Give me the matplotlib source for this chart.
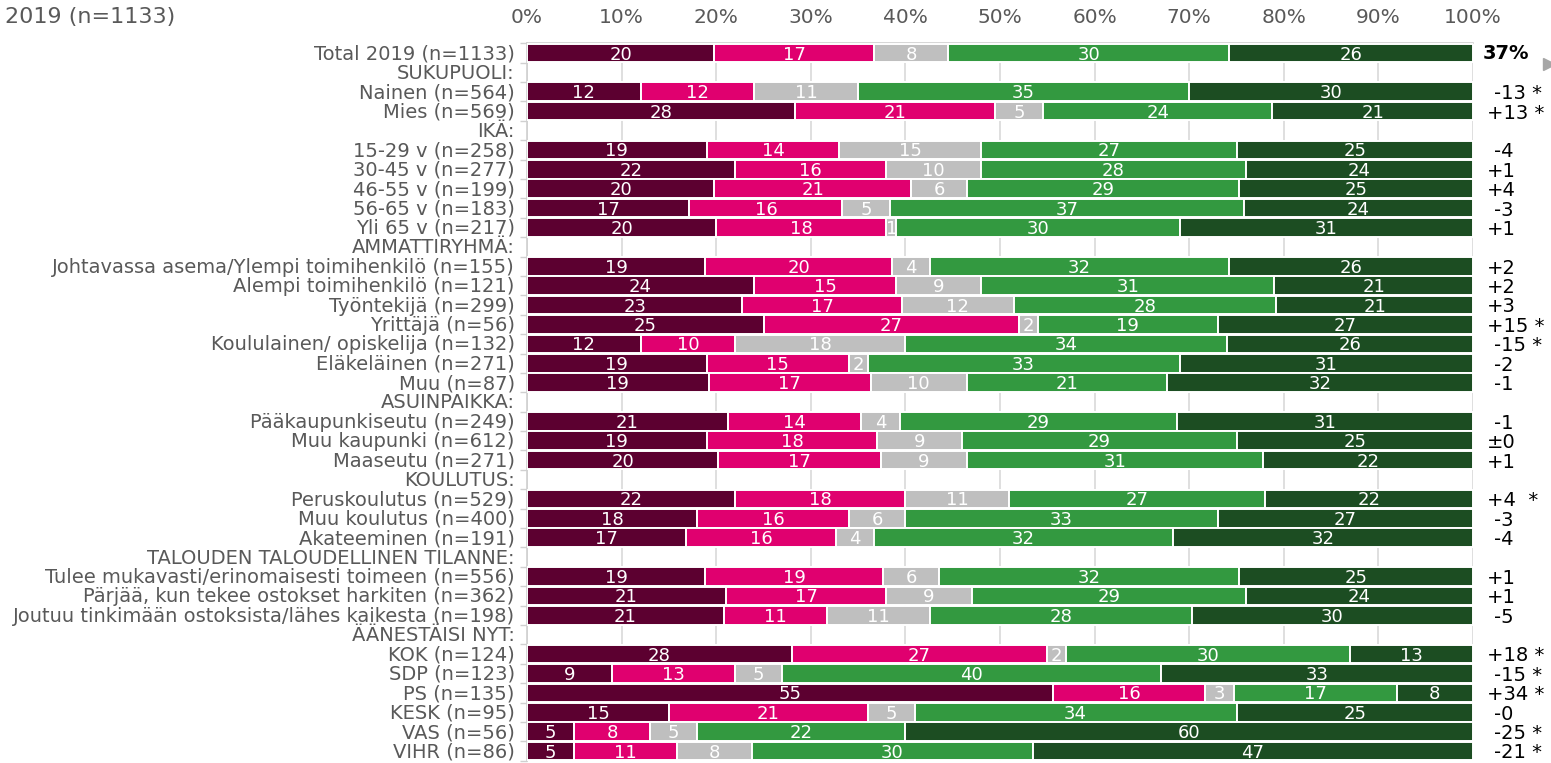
import numpy as np
import matplotlib
matplotlib.use("Agg")
import matplotlib.pyplot as plt

labels = [
    "Total 2019 (n=1133)", "SUKUPUOLI:", "Nainen (n=564)", "Mies (n=569)",
    "IKÄ:", "15-29 v (n=258)", "30-45 v (n=277)", "46-55 v (n=199)", "56-65 v (n=183)", "Yli 65 v (n=217)",
    "AMMATTIRYHMÄ:", "Johtavassa asema/Ylempi toimihenkilö (n=155)", "Alempi toimihenkilö (n=121)",
    "Työntekijä (n=299)", "Yrittäjä (n=56)", "Koululainen/ opiskelija (n=132)", "Eläkeläinen (n=271)", "Muu (n=87)",
    "ASUINPAIKKA:", "Pääkaupunkiseutu (n=249)", "Muu kaupunki (n=612)", "Maaseutu (n=271)",
    "KOULUTUS:", "Peruskoulutus (n=529)", "Muu koulutus (n=400)", "Akateeminen (n=191)",
    "TALOUDEN TALOUDELLINEN TILANNE:", "Tulee mukavasti/erinomaisesti toimeen (n=556)",
    "Pärjää, kun tekee ostokset harkiten (n=362)", "Joutuu tinkimään ostoksista/lähes kaikesta (n=198)",
    "ÄÄNESTÄISI NYT:", "KOK (n=124)", "SDP (n=123)", "PS (n=135)", "KESK (n=95)", "VAS (n=56)", "VIHR (n=86)",
]

# None = header row without a bar
s1 = [20, None, 12, 28, None, 19, 22, 20, 17, 20, None, 19, 24, 23, 25, 12, 19, 19, None, 21, 19, 20,
      None, 22, 18, 17, None, 19, 21, 21, None, 28, 9, 55, 15, 5, 5]
s2 = [17, None, 12, 21, None, 14, 16, 21, 16, 18, None, 20, 15, 17, 27, 10, 15, 17, None, 14, 18, 17,
      None, 18, 16, 16, None, 19, 17, 11, None, 27, 13, 16, 21, 8, 11]
s3 = [8, None, 11, 5, None, 15, 10, 6, 5, 1, None, 4, 9, 12, 2, 18, 2, 10, None, 4, 9, 9,
      None, 11, 6, 4, None, 6, 9, 11, None, 2, 5, 3, 5, 5, 8]
s4 = [30, None, 35, 24, None, 27, 28, 29, 37, 30, None, 32, 31, 28, 19, 34, 33, 21, None, 29, 29, 31,
      None, 27, 33, 32, None, 32, 29, 28, None, 30, 40, 17, 34, 22, 30]
s5 = [26, None, 30, 21, None, 25, 24, 25, 24, 31, None, 26, 21, 21, 27, 26, 31, 32, None, 31, 25, 22,
      None, 22, 27, 32, None, 25, 24, 30, None, 13, 33, 8, 25, 60, 47]
diffs = ["37%", "", "-13 *", "+13 *", "", "-4", "+1", "+4", "-3", "+1", "", "+2", "+2", "+3", "+15 *",
         "-15 *", "-2", "-1", "", "-1", "±0", "+1", "", "+4  *", "-3", "-4", "", "+1", "+1", "-5", "",
         "+18 *", "-15 *", "+34 *", "-0", "-25 *", "-21 *"]

colors = ["#5c0030", "#e0006f", "#bfbfbf", "#339940", "#1c4d22"]
grey_txt = "#595959"

fig = plt.figure(figsize=(15.51, 7.63), dpi=100)
ax = fig.add_axes([527 / 1551, 2.3 / 763, 946 / 1551, 717.4 / 763])

n = len(labels)
series = [s1, s2, s3, s4, s5]
for i in range(n):
    if s1[i] is None:
        continue
    vals = np.array([s[i] for s in series], dtype=float)
    widths = vals / vals.sum() * 100
    left = 0.0
    for k in range(5):
        ax.barh(i, widths[k], left=left, height=0.96, color=colors[k],
                edgecolor="white", linewidth=1.4, zorder=3)
        ax.text(left + widths[k] / 2, i + 0.08, str(int(vals[k])), ha="center", va="center",
                color="white", fontsize=13, zorder=4)
        left += widths[k]

for i, lab in enumerate(labels):
    ax.text(-1.3, i + 0.05, lab, ha="right", va="center", color=grey_txt, fontsize=14)
    d = diffs[i]
    if d == "":
        continue
    if i == 0:
        ax.text(101.0, i + 0.05, d, ha="left", va="center", color="black",
                fontsize=14, fontweight="bold", clip_on=False)
    else:
        x = 102.2 if d.startswith("-") else 101.5
        ax.text(x, i + 0.1, d, ha="left", va="center", color="black", fontsize=14, clip_on=False)

ax.set_xlim(0, 100)
ax.set_ylim(n - 0.5, -0.5)
ax.set_xticks(np.arange(0, 101, 10))
ax.set_xticklabels([f"{v}%" for v in range(0, 101, 10)])
ax.xaxis.tick_top()
ax.tick_params(axis="x", length=0, pad=12, labelsize=14.5, labelcolor=grey_txt)
ax.set_yticks(np.arange(-0.5, n, 1))
ax.set_yticklabels([])
ax.tick_params(axis="y", length=5, width=1, color="#d0d0d0", direction="out")
ax.xaxis.grid(True, color="#d9d9d9", linewidth=1.2, zorder=0)
ax.set_axisbelow(True)
for side in ["right", "bottom"]:
    ax.spines[side].set_visible(False)
for side in ["top", "left"]:
    ax.spines[side].set_color("#d0d0d0")
    ax.spines[side].set_linewidth(1.2)

fig.text(5 / 1551, 1 - 17 / 763, "2019 (n=1133)", ha="left", va="center", fontsize=16, color=grey_txt)
fig.add_artist(plt.Line2D([1549 / 1551], [1 - 64 / 763], marker=">", markersize=9,
                          color="#a6a6a6", transform=fig.transFigure))

fig.savefig("out.png", dpi=100)
